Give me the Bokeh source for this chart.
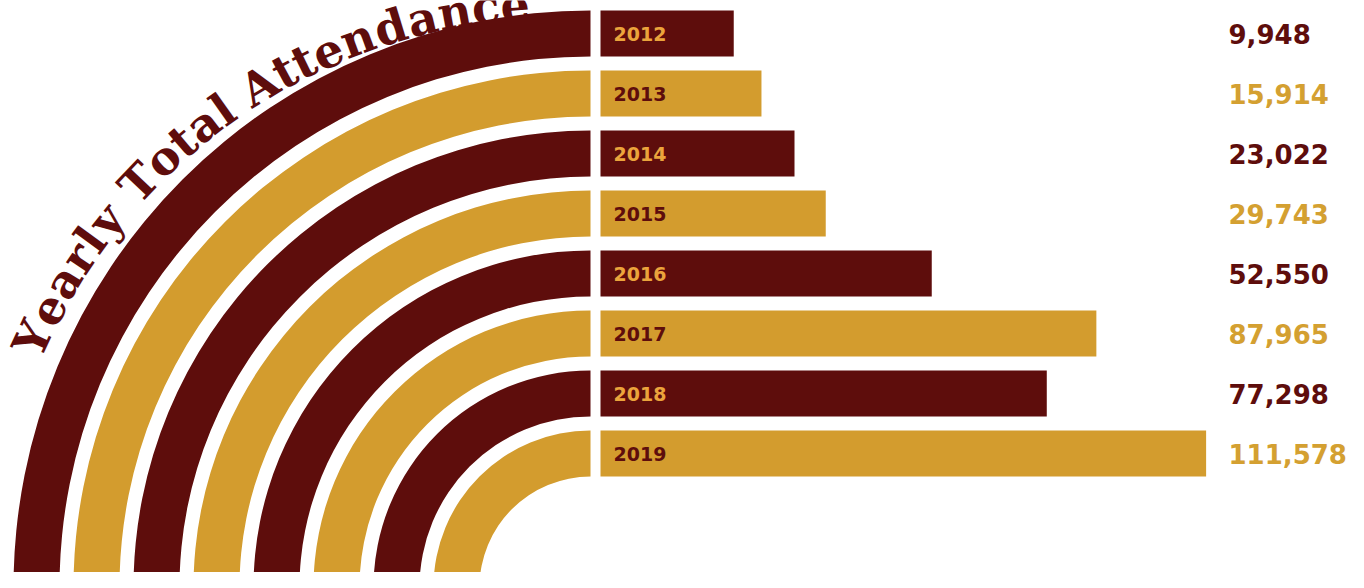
import math
from bokeh.plotting import figure
from bokeh.models import Range1d, ColumnDataSource
from bokeh.core.properties import value
from bokeh.embed import file_html
from bokeh.resources import INLINE

# ---------------- data ----------------
years = ["2012", "2013", "2014", "2015", "2016", "2017", "2018", "2019"]
attendance = [9948, 15914, 23022, 29743, 52550, 87965, 77298, 111578]
title = "Yearly Total Attendance"

# ---------------- style / layout ----------------
MAROON = "#5e0d0c"
GOLD = "#d39c2e"
YEAR_ON_MAROON = "#eba43c"
VALUE_MAROON = "#5e0d0c"
VALUE_GOLD = "#d4a031"

W, H = 1348, 572
REF_H = 588
BAND_TOP_CENTER = 33      # px from top of the picture
BAND_PITCH = 60
BAND_H = 46
ARC_CX, ARC_CY = 590, REF_H - 587
BAR_LEFT_PX = 600
ZERO_PX = 687             # fixed padding for the year label
PX_PER_UNIT = 0.004648

n = len(years)
band_y = [REF_H - (BAND_TOP_CENTER + BAND_PITCH * i) for i in range(n)]
fills = [MAROON if i % 2 == 0 else GOLD for i in range(n)]
year_colors = [YEAR_ON_MAROON if i % 2 == 0 else MAROON for i in range(n)]
value_colors = [VALUE_MAROON if i % 2 == 0 else VALUE_GOLD for i in range(n)]
outer_r = [(y + BAND_H / 2) - ARC_CY for y in band_y]
inner_r = [(y - BAND_H / 2) - ARC_CY for y in band_y]

p = figure(width=W, height=H, x_range=Range1d(0, W), y_range=Range1d(REF_H - H, REF_H),
           output_backend="svg", toolbar_location=None, min_border=0,
           x_axis_type=None, y_axis_type=None)
p.grid.visible = False
p.outline_line_color = None
p.background_fill_color = "white"
p.border_fill_color = "white"

p.extra_x_ranges = {"val": Range1d((0 - ZERO_PX) / PX_PER_UNIT, (W - ZERO_PX) / PX_PER_UNIT)}

src = ColumnDataSource(dict(
    year=years, att=attendance, y=band_y, fill=fills, ycol=year_colors, vcol=value_colors,
    label=[f"{v:,}" for v in attendance],
    inner=inner_r, outer=outer_r,
    left=[(BAR_LEFT_PX - ZERO_PX) / PX_PER_UNIT] * n,
))

# concentric quarter arcs
p.annular_wedge(x=ARC_CX, y=ARC_CY, inner_radius="inner", outer_radius="outer",
                start_angle=math.pi / 2, end_angle=math.pi, fill_color="fill",
                line_color=None, source=src)

# bars
p.hbar(y="y", left="left", right="att", height=BAND_H, fill_color="fill",
       line_color=None, source=src, x_range_name="val")

# year labels in bars
p.text(x=613, y="y", text="year", text_color="ycol", text_font=value("DejaVu Sans"),
       text_font_style="bold", text_font_size="19px", text_align="left",
       text_baseline="middle", source=src)

# value labels on the right
p.text(x=1228, y="y", text="label", text_color="vcol", text_font=value("DejaVu Sans"),
       text_font_style="bold", text_font_size="26px", text_align="left",
       text_baseline="middle", source=src)

# curved title
widths = {"Y": .77, "e": .65, "a": .67, "r": .55, "l": .38, "y": .68, " ": .35, "T": .74,
          "o": .68, "t": .46, "A": .77, "n": .74, "d": .73, "c": .60}
PX_PER_EM = 47
T_CX, T_CY = 558, REF_H - 581
R_CENTER = 579
theta0 = math.radians(155.2)
pos = []
acc = 0.0
for ch in title:
    w = widths.get(ch, .65)
    pos.append(acc + w / 2)
    acc += w
tx, ty, tt, ta = [], [], [], []
for ch, s in zip(title, pos):
    if ch == " ":
        continue
    th = theta0 - (s - pos[0]) * PX_PER_EM / R_CENTER
    tx.append(T_CX + R_CENTER * math.cos(th))
    ty.append(T_CY + R_CENTER * math.sin(th))
    tt.append(ch)
    ta.append(th - math.pi / 2)
p.text(x=tx, y=ty, text=tt, angle=ta, text_color=MAROON, text_font=value("DejaVu Serif"),
       text_font_style="bold", text_font_size="46px", text_align="center",
       text_baseline="middle")

open("out.html", "w").write(file_html(p, INLINE))
